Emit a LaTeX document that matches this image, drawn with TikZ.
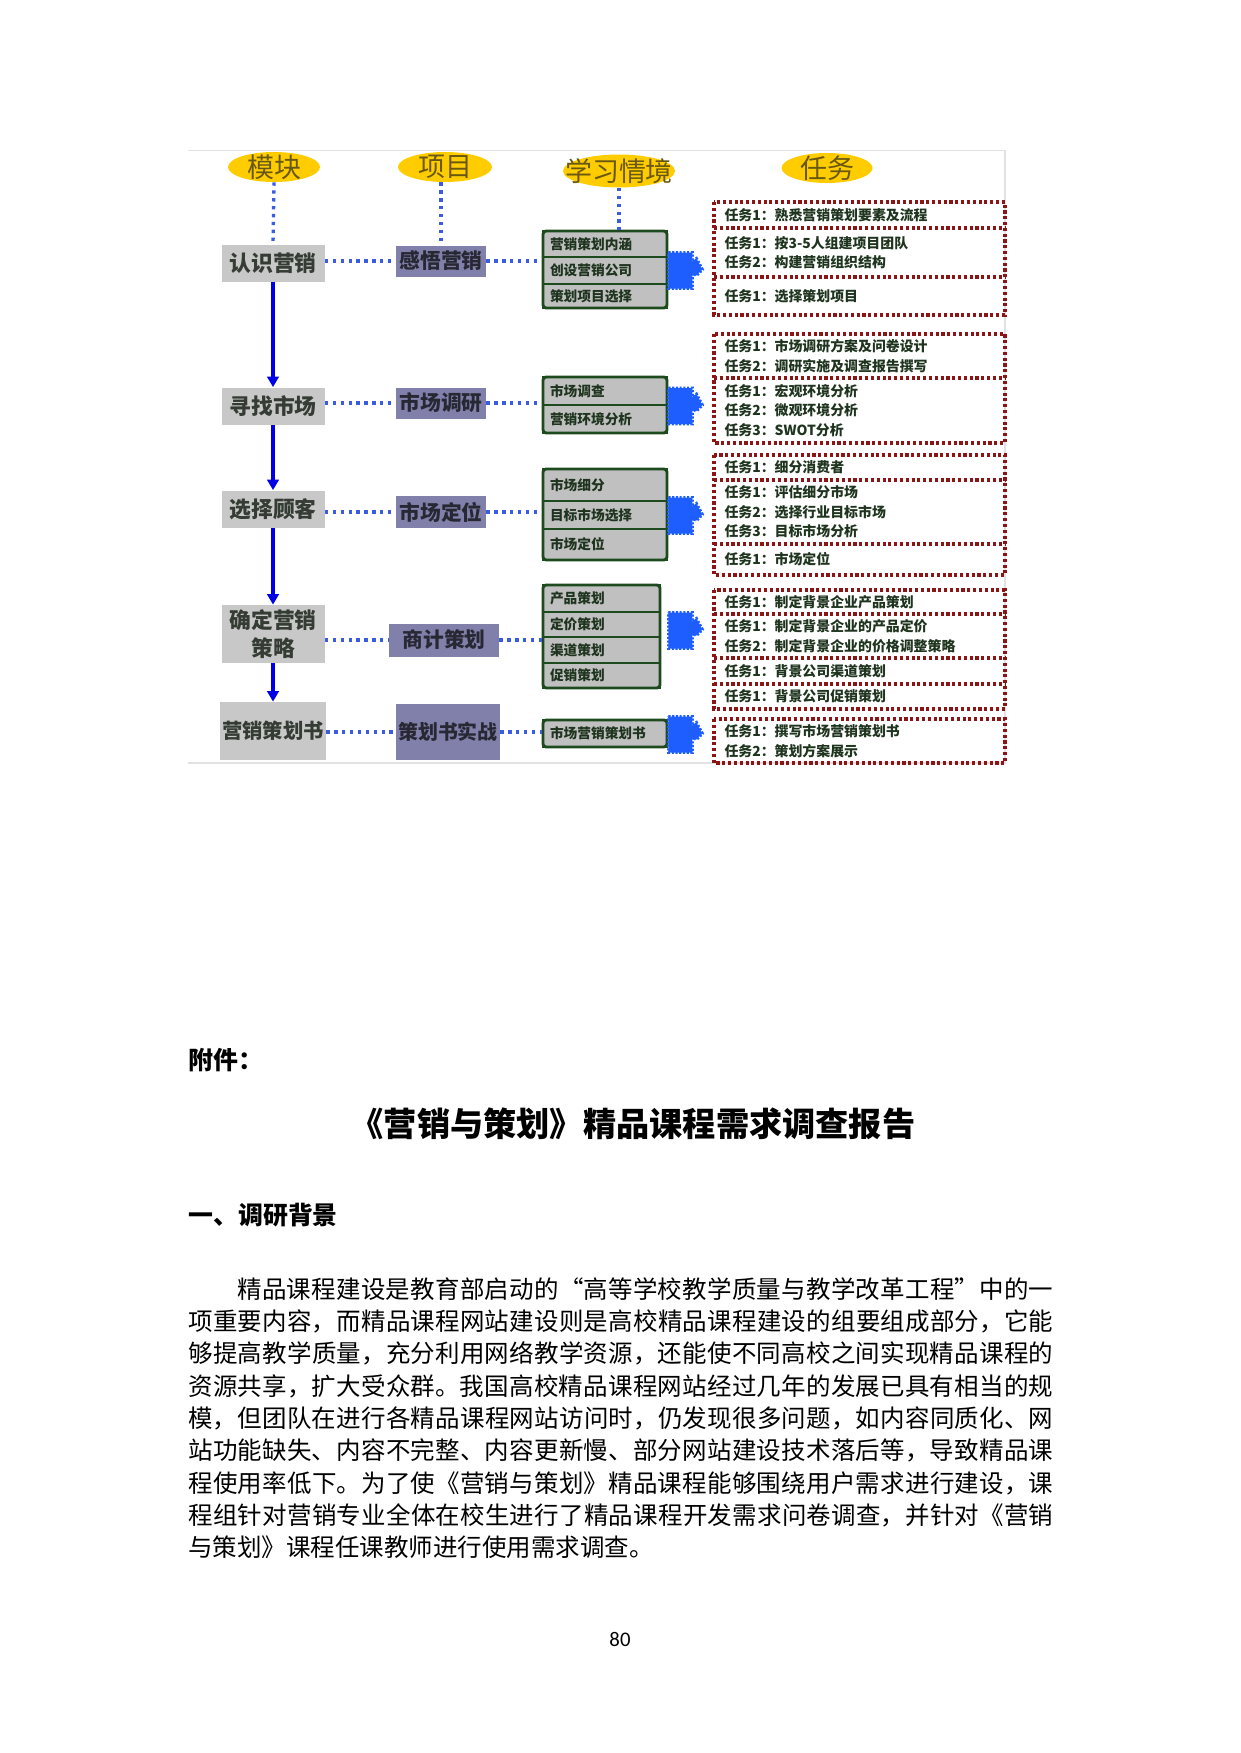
\documentclass[tikz,border=0pt]{standalone}
\usepackage{fontspec}
\setmainfont{Carlito}
\newfontfamily\cjk{Noto Sans CJK SC}
\XeTeXlinebreaklocale "zh"
\XeTeXlinebreakskip=0pt plus 2pt minus 0.3pt
\usetikzlibrary{arrows.meta,positioning,fit,shapes.geometric,calc}
\newdimen\px \px=0.4819pt
\definecolor{gold}{RGB}{255,204,0}
\definecolor{goldtxt}{RGB}{105,88,18}
\definecolor{modgray}{RGB}{200,200,200}
\definecolor{modtxt}{RGB}{52,60,52}
\definecolor{slate}{RGB}{128,128,170}
\definecolor{slatetxt}{RGB}{40,40,52}
\definecolor{rowgray}{RGB}{192,192,192}
\definecolor{rowgreen}{RGB}{30,75,30}
\definecolor{dotblue}{RGB}{58,92,224}
\definecolor{arrblue}{RGB}{0,0,230}
\definecolor{blobblue}{RGB}{30,94,255}
\definecolor{taskred}{RGB}{140,20,20}
\definecolor{tasktxt}{RGB}{30,52,30}
\definecolor{rulegray}{RGB}{226,226,226}
\tikzset{
  hdell/.style={ellipse, fill=gold, inner sep=0pt},
  hdtxt/.style={inner sep=0pt, text=goldtxt, font=\cjk\fontsize{13}{13}\selectfont},
  mod/.style={fill=modgray, minimum width=103\px, minimum height=37\px, inner sep=1pt,
              align=center, text=modtxt, font=\cjk\bfseries\fontsize{10.5}{13.5}\selectfont},
  proj/.style={fill=slate, minimum width=90\px, minimum height=31\px, inner sep=1pt,
               align=center, text=slatetxt, font=\cjk\bfseries\fontsize{10}{12}\selectfont},
  sitrow/.style={draw=rowgreen, line width=0.9pt, fill=rowgray, anchor=north west,
                 minimum width=124\px, text width=110\px, inner xsep=7\px, inner ysep=0pt,
                 outer sep=0pt, align=left, text=tasktxt,
                 font=\cjk\bfseries\fontsize{6.6}{8}\selectfont},
  grp/.style={draw=rowgreen, line width=1.4pt, rounded corners=1.5pt, inner sep=0pt},
  task/.style={anchor=north west, minimum width=291\px, text width=270\px,
               inner xsep=10.5\px, inner ysep=0pt, outer sep=0pt, align=left, text=tasktxt,
               font=\cjk\bfseries\fontsize{6.7}{9.4}\selectfont},
  taskline/.style={draw=taskred, line width=1.5pt, dash pattern=on 1.5pt off 1.3pt},
  dotl/.style={draw=dotblue, line width=1.6pt, dash pattern=on 1.6pt off 2.2pt},
  flowdn/.style={draw=arrblue, line width=1.5pt, -{Triangle[length=5pt,width=5.5pt]}},
  blobby/.style={fill=blobblue, draw=blobblue, line width=1.4pt, dash pattern=on 1pt off 0.8pt},
  pagerule/.style={draw=rulegray, line width=1.4pt},
  txt/.style={inner sep=0pt},
}
\newcommand{\blob}[1]{\path[blobby] (#1) ++(0,-17) -- ++(24,0) -- ++(0,9) -- ++(4,-3)
  -- ++(6,11) -- ++(-6,6) -- ++(-4,-2) -- ++(0,15) -- ++(-24,0) -- cycle;}

\begin{document}
\begin{tikzpicture}[x=0.0169355cm, y=-0.0169355cm]
  \useasboundingbox (0,0) rectangle (1240,1753);
  \draw[pagerule, line width=0.4pt] (188,150) -- (1005,150);
  \draw[pagerule] (1005,150) -- (1005,763) -- (188,763);

  \node[hdell, minimum width=92\px, minimum height=30\px, label={[hdtxt]center:模块}] (e1) at (274,167) {};
  \node[hdell, minimum width=94\px, minimum height=30\px, label={[hdtxt]center:项目}] (e2) at (445,167) {};
  \node[hdell, minimum width=112\px, minimum height=33\px, label={[hdtxt]center:学习情境}] (e3) at (619,171) {};
  \node[hdell, minimum width=91\px, minimum height=30\px, label={[hdtxt]center:任务}] (e4) at (827,168) {};

  \node[mod] (m1) at (273,263) {认识营销};
  \node[mod] (m2) at (273,406) {寻找市场};
  \node[mod] (m3) at (273,509) {选择顾客};
  \node[mod, minimum height=58\px] (m4) at (273,634) {确定营销\\策略};
  \node[mod, minimum height=58\px, font=\cjk\bfseries\fontsize{9.8}{12}\selectfont] (m5) at (273,731) {营销策划书};

  \node[proj] (p1) at (441,261) {感悟营销};
  \node[proj] (p2) at (441,403) {市场调研};
  \node[proj, minimum height=32\px] (p3) at (441,512) {市场定位};
  \node[proj, minimum width=110\px, minimum height=33\px] (p4) at (444,640) {商计策划};
  \node[proj, minimum width=103\px, minimum height=56\px, font=\cjk\bfseries\fontsize{9.6}{12}\selectfont] (p5) at (448,732) {策划书实战};

  \node[sitrow, minimum height=26\px] (s11) at (543,231) {营销策划内涵};
  \node[sitrow, minimum height=27\px] (s12) at (543,257) {创设营销公司};
  \node[sitrow, minimum height=24\px] (s13) at (543,284) {策划项目选择};
  \node[grp, fit=(s11)(s13)] (g1) {};
  \node[sitrow, minimum height=28\px] (s21) at (543,377) {市场调查};
  \node[sitrow, minimum height=28\px] (s22) at (543,405) {营销环境分析};
  \node[grp, fit=(s21)(s22)] (g2) {};
  \node[sitrow, minimum height=32\px] (s31) at (543,469) {市场细分};
  \node[sitrow, minimum height=28\px] (s32) at (543,501) {目标市场选择};
  \node[sitrow, minimum height=31\px] (s33) at (543,529) {市场定位};
  \node[grp, fit=(s31)(s33)] (g3) {};
  \tikzset{sitrow/.append style={minimum width=117\px, text width=103\px}}
  \node[sitrow, minimum height=27\px] (s41) at (543,585) {产品策划};
  \node[sitrow, minimum height=25\px] (s42) at (543,612) {定价策划};
  \node[sitrow, minimum height=26\px] (s43) at (543,637) {渠道策划};
  \node[sitrow, minimum height=25\px] (s44) at (543,663) {促销策划};
  \node[grp, fit=(s41)(s44)] (g4) {};
  \tikzset{sitrow/.append style={minimum width=124\px, text width=110\px}}
  \node[sitrow, minimum height=27\px] (s51) at (543,720) {市场营销策划书};
  \node[grp, fit=(s51)] (g5) {};

  \node[task, minimum height=26\px] (t11) at (714,202) {任务1：熟悉营销策划要素及流程};
  \node[task, minimum height=49\px] (t12) at (714,228) {任务1：按3-5人组建项目团队\\任务2：构建营销组织结构};
  \node[task, minimum height=38\px] (t13) at (714,277) {任务1：选择策划项目};
  \node[task, minimum height=44\px] (t21) at (714,334) {任务1：市场调研方案及问卷设计\\任务2：调研实施及调查报告撰写};
  \node[task, minimum height=65\px] (t22) at (714,378) {任务1：宏观环境分析\\任务2：微观环境分析\\任务3：SWOT分析};
  \node[task, minimum height=25\px] (t31) at (714,455) {任务1：细分消费者};
  \node[task, minimum height=64\px] (t32) at (714,480) {任务1：评估细分市场\\任务2：选择行业目标市场\\任务3：目标市场分析};
  \node[task, minimum height=31\px] (t33) at (714,544) {任务1：市场定位};
  \node[task, minimum height=24\px] (t41) at (714,590) {任务1：制定背景企业产品策划};
  \node[task, minimum height=44\px] (t42) at (714,614) {任务1：制定背景企业的产品定价\\任务2：制定背景企业的价格调整策略};
  \node[task, minimum height=26\px] (t43) at (714,658) {任务1：背景公司渠道策划};
  \node[task, minimum height=25\px] (t44) at (714,684) {任务1：背景公司促销策划};
  \node[task, minimum height=44\px] (t51) at (714,719) {任务1：撰写市场营销策划书\\任务2：策划方案展示};

  \draw[taskline] (t11.north west) rectangle (t13.south east);
  \draw[taskline] (t11.south west) -- (t11.south east);
  \draw[taskline] (t12.south west) -- (t12.south east);
  \draw[taskline] (t21.north west) rectangle (t22.south east);
  \draw[taskline] (t21.south west) -- (t21.south east);
  \draw[taskline] (t31.north west) rectangle (t33.south east);
  \draw[taskline] (t31.south west) -- (t31.south east);
  \draw[taskline] (t32.south west) -- (t32.south east);
  \draw[taskline] (t41.north west) rectangle (t44.south east);
  \draw[taskline] (t41.south west) -- (t41.south east);
  \draw[taskline] (t42.south west) -- (t42.south east);
  \draw[taskline] (t43.south west) -- (t43.south east);
  \draw[taskline] (t51.north west) rectangle (t51.south east);

  \blob{g1.east}
  \blob{g2.east}
  \blob{g3.east}
  \blob{$(g4.east)+(7,-7)$}
  \blob{g5.east}

  \draw[dotl] (e1.south) -- (m1.north);
  \draw[dotl] (p1.north |- e2.south) -- (p1.north);
  \draw[dotl] (e3.south) -- (e3.south |- g1.north);
  \draw[dotl] (m1.east |- p1) -- (p1.west);
  \draw[dotl] (p1.east) -- (p1 -| g1.west);
  \draw[dotl] (m2.east |- p2) -- (p2.west);
  \draw[dotl] (p2.east) -- (p2 -| g2.west);
  \draw[dotl] (m3.east |- p3) -- (p3.west);
  \draw[dotl] (p3.east) -- (p3 -| g3.west);
  \draw[dotl] (m4.east |- p4) -- (p4.west);
  \draw[dotl] (p4.east) -- (p4 -| g4.west);
  \draw[dotl] (m5.east |- p5) -- (p5.west);
  \draw[dotl] (p5.east) -- (p5 -| g5.west);

  \draw[flowdn] (m1) -- (m2);
  \draw[flowdn] (m2) -- (m3);
  \draw[flowdn] (m3) -- (m4);
  \draw[flowdn] (m4) -- (m5);

  \node[txt, anchor=west, font=\cjk\bfseries\fontsize{12}{14}\selectfont] (att) at (188,1060) {附件：};
  \node[txt, font=\cjk\bfseries\fontsize{16}{19}\selectfont] (ttl) at (633,1124) {《营销与策划》精品课程需求调查报告};
  \node[txt, anchor=west, font=\cjk\bfseries\fontsize{12}{14}\selectfont] (sec) at (188,1215) {一、调研背景};
  \node[txt, anchor=base west, text width=865\px, align=justify,
        font=\cjk\fontsize{11.8}{15.6}\selectfont] (body) at (188,1298)
    {\hspace*{2em}精品课程建设是教育部启动的“高等学校教学质量与教学改革工程”中的一\linebreak
     项重要内容，而精品课程网站建设则是高校精品课程建设的组要组成部分，它能\linebreak
     够提高教学质量，充分利用网络教学资源，还能使不同高校之间实现精品课程的\linebreak
     资源共享，扩大受众群。我国高校精品课程网站经过几年的发展已具有相当的规\linebreak
     模，但团队在进行各精品课程网站访问时，仍发现很多问题，如内容同质化、网\linebreak
     站功能缺失、内容不完整、内容更新慢、部分网站建设技术落后等，导致精品课\linebreak
     程使用率低下。为了使《营销与策划》精品课程能够围绕用户需求进行建设，课\linebreak
     程组针对营销专业全体在校生进行了精品课程开发需求问卷调查，并针对《营销\linebreak
     与策划》课程任课教师进行使用需求调查。};
  \node[txt, font=\fontsize{10}{12}\selectfont] (pg) at (620,1639) {80};
\end{tikzpicture}
\end{document}
